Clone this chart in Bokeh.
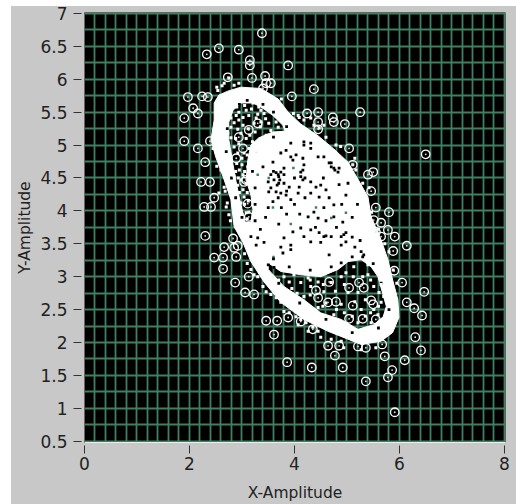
from bokeh.plotting import figure
from bokeh.models import Range1d, SingleIntervalTicker, FixedTicker, Span
from bokeh.embed import file_html
from bokeh.resources import INLINE

x_ticks = [0, 2, 4, 6, 8]
y_ticks = [0.5, 1, 1.5, 2, 2.5, 3, 3.5, 4, 4.5, 5, 5.5, 6, 6.5, 7]
x_title = "X-Amplitude"
y_title = "Y-Amplitude"

# white mass: outer edge of the ring, and the two dark pockets inside it
ring_outer = [(2.47,5.38),(2.47,5.64),(2.56,5.76),(2.73,5.82),(2.98,5.88),(3.36,5.86),(3.69,5.70),(3.88,5.50),
 (4.12,5.32),(4.45,5.14),(4.75,4.94),(5.02,4.74),(5.21,4.48),(5.40,4.21),(5.46,3.91),(5.65,3.56),(5.78,3.26),
 (5.87,2.95),(5.97,2.65),(5.99,2.38),(5.87,2.15),(5.65,2.02),(5.27,1.97),(5.02,2.05),(4.64,2.17),(4.18,2.35),
 (3.74,2.61),(3.42,2.92),(3.17,3.23),(3.02,3.52),(2.85,3.76),(2.79,4.17),(2.64,4.52),(2.50,4.82),(2.41,5.08)]
pocket_upper = [(2.83,5.53),(2.98,5.64),(3.21,5.64),(3.40,5.56),(3.59,5.45),(3.78,5.30),(3.82,5.21),(3.59,5.20),
 (3.32,5.11),(3.17,5.00),(3.11,4.77),(3.08,4.47),(3.17,4.24),(3.21,4.02),(3.17,3.83),(3.06,3.83),(2.98,4.09),
 (2.90,4.39),(2.83,4.70),(2.75,5.08),(2.75,5.35)]
pocket_lower = [(3.50,3.21),(3.74,3.08),(4.12,3.03),(4.50,3.00),(4.83,3.11),(5.02,3.23),(5.27,3.26),(5.46,3.15),
 (5.59,3.00),(5.75,2.55),(5.69,2.39),(5.51,2.27),(5.21,2.20),(4.89,2.35),(4.50,2.45),(4.18,2.65),(3.80,2.85),(3.50,3.11)]

# ringed outliers
rings = [(2.33,6.38),(2.56,6.47),(2.94,6.45),(3.15,6.29),(3.15,6.21),(3.19,6.02),(2.73,6.03),(1.97,5.73),(2.24,5.74),
 (2.35,5.73),(2.07,5.56),(2.16,5.48),(1.90,5.41),(1.90,5.06),(2.16,4.95),(2.39,5.06),(2.30,4.74),(2.22,4.44),(2.39,4.44),
 (2.28,4.06),(2.41,4.06),(2.47,4.20),(2.30,3.62),(2.66,3.45),(2.83,3.58),(2.92,3.47),(3.38,6.70),(3.13,5.23),(3.30,5.33),
 (2.94,5.12),(3.02,4.95),(3.27,4.89),(3.08,4.47),(3.11,4.11),(3.13,3.91),(3.88,6.21),(4.37,5.85),(3.95,5.74),(5.25,5.50),
 (4.24,5.48),(4.45,5.50),(4.45,5.35),(4.73,5.42),(4.75,5.35),(4.96,5.32),(4.45,5.24),(5.04,4.95),(6.50,4.86),(5.11,4.70),
 (5.50,4.59),(5.40,4.55),(5.46,4.30),(5.55,4.05),(5.80,3.98),(5.51,3.86),(5.65,3.82),(5.78,3.71),(5.91,3.61),(5.55,3.68),
 (6.14,3.47),(3.44,6.05),(3.55,5.94),(3.46,5.94),(2.64,3.29),(2.47,3.29),(2.64,3.12),(3.13,3.00),(2.87,2.91),(3.06,2.76),
 (3.23,2.73),(2.89,3.30),(6.05,2.91),(6.47,2.77),(6.14,2.61),(6.28,2.52),(6.43,2.41),(6.30,2.08),(6.41,1.88),(6.10,1.73),
 (5.86,1.58),(5.78,1.47),(5.72,1.79),(5.36,1.41),(5.91,0.94),(4.92,1.62),(4.33,1.62),(3.86,1.70),(3.61,2.12),(3.46,2.33),
 (3.67,2.33),(3.88,2.38),(4.77,1.80),(4.64,1.95),(4.85,1.95),(5.36,1.92),(5.67,1.97),(5.11,2.56),(4.79,2.62),(4.64,2.61),
 (5.04,2.36),(5.30,2.36),(5.46,2.64),(5.55,2.35),(5.04,2.83),(5.23,2.91),(5.32,2.83),(4.45,2.68),(5.90,3.09),(4.66,2.92),
 (4.41,2.79),(4.35,2.20),(4.12,2.32),(5.21,1.94),(2.85,3.44),(5.88,3.39),(5.65,3.61),(5.50,2.58),(2.89,4.80),(3.04,4.44),(3.40,5.86)]

# small white points in the dark pockets and on the ring's edge
white_points = [(2.79,5.41),(2.89,5.45),(2.94,5.50),(3.02,5.42),(3.08,5.53),(3.21,5.64),(3.32,5.58),(3.36,5.53),(2.79,5.27),
 (2.73,5.18),(2.79,5.11),(2.94,5.38),(3.02,5.30),(3.13,5.45),(3.27,5.41),(3.42,5.48),(2.85,4.97),(2.92,4.88),(2.79,4.77),
 (3.04,4.88),(3.23,5.33),(3.36,5.35),(3.51,5.33),(3.69,5.27),(3.46,5.15),(3.40,5.03),(3.59,5.00),(3.30,4.92),(3.21,4.77),
 (3.30,4.73),(3.11,4.67),(2.66,5.94),(2.85,5.91),(2.94,5.94),(2.54,5.83),(2.75,6.02),(2.98,4.47),(3.08,4.42),(3.13,4.50),
 (2.92,4.39),(3.02,4.32),(3.17,4.32),(3.04,4.21),(2.98,4.12),(3.13,3.98),(3.21,3.91),(3.08,3.97),(2.66,4.36),(2.56,4.27),
 (2.70,4.06),(2.75,3.94),(2.85,4.53),(2.79,4.56),(4.09,5.42),(4.18,5.38),(4.31,5.41),(4.37,5.30),(4.47,5.26),(4.56,5.30),
 (4.79,5.00),(5.11,4.70),(5.17,4.62),(4.07,5.45),(3.80,3.00),(3.90,2.92),(3.99,3.03),(4.12,2.91),(4.26,2.98),(4.31,2.85),
 (4.45,2.92),(4.18,2.70),(4.56,2.77),(4.70,2.91),(4.89,3.00),(4.98,3.06),(5.13,3.15),(5.40,3.18),(5.40,3.03),(5.02,2.76),
 (5.21,2.76),(5.51,2.85),(5.61,2.76),(5.65,2.61),(5.51,2.50),(5.59,2.42),(5.27,2.50),(4.89,2.58),(4.54,2.55),(4.45,2.53),
 (4.75,2.42),(5.21,2.30),(5.46,2.30),(5.69,2.32),(3.46,2.77),(3.55,2.73),(3.65,2.68),(3.74,2.61),(3.80,2.47),(3.90,2.45),
 (4.03,2.39),(4.12,2.35),(4.22,2.30),(4.35,2.23),(4.45,2.17),(4.07,2.27),(4.26,2.17),(4.50,2.08),(4.70,2.05),(4.89,2.02),
 (4.94,1.92),(5.27,1.89),(5.55,1.92),(3.17,3.11),(3.23,3.03),
 (2.85,5.34),(2.92,5.24),(2.98,5.18),(3.08,5.10),(3.15,5.15),(3.25,5.20),(2.88,5.10),(2.94,5.02),(3.00,4.80),(2.90,4.72),
 (2.95,4.62),(3.05,4.60),(3.00,4.70),(2.88,4.60),(2.93,4.50),(3.02,4.55),(3.10,4.85),(3.14,4.95),(3.35,5.28),(3.45,5.40),
 (3.55,5.22),(3.65,5.35),(3.30,5.47),(3.18,5.55),(3.05,5.60),(2.90,5.58),(3.12,5.25),(3.20,5.05),(2.95,4.28),(3.05,4.10),
 (3.10,4.28),(3.12,4.15),(3.00,3.95),(3.10,3.88),(3.70,2.95),(3.95,2.82),(4.05,2.75),(4.30,2.72),(4.60,2.60),(4.80,2.50),
 (4.95,2.45),(5.10,2.40),(5.35,2.40),(5.45,2.45),(5.60,2.55),(5.70,2.70),(5.65,2.88),(5.45,2.95),(5.30,3.00),(5.12,3.00),
 (4.95,2.88),(4.78,2.78),(4.55,2.88),(4.30,2.95),(5.15,2.62),(5.35,2.65),(2.45,4.95),(2.52,4.68),(2.60,4.62),(2.68,4.30),
 (2.72,4.12),(2.78,3.85),(2.52,5.88),(2.62,5.90),(3.05,3.35),(3.10,3.20),(3.30,3.00),(3.40,2.85),(5.47,3.98),(5.60,3.72),
 (5.72,3.50),(5.80,3.38),(5.88,3.10),(5.95,2.90),(5.30,4.42),(5.42,4.35),(3.75,5.70),(3.98,5.48),(4.05,5.30),(4.60,5.12),
 (4.88,4.98),(5.15,4.80)]

# small black points on the white mass
black_points = [(3.65,4.58),(3.70,4.52),(3.74,4.59),(3.80,4.55),(3.61,4.47),(3.70,4.42),(3.80,4.42),(3.90,4.36),(3.55,4.35),
 (3.51,4.29),(3.65,4.29),(3.74,4.27),(3.84,4.24),(3.69,4.20),(3.59,4.14),(3.93,4.17),(4.07,4.27),(4.09,4.36),(4.16,4.47),
 (4.12,4.59),(4.18,4.70),(4.16,4.80),(3.93,5.03),(3.74,4.88),(3.84,4.92),(4.03,4.85),(4.18,5.00),(4.31,5.03),(3.97,4.77),
 (4.31,4.44),(4.41,4.36),(4.50,4.39),(4.60,4.32),(4.31,4.27),(4.47,4.21),(4.66,4.20),(4.75,4.09),(4.56,4.05),(4.37,3.98),
 (4.26,3.91),(4.45,3.89),(4.75,3.91),(4.92,3.83),(4.70,3.61),(4.56,3.61),(4.47,3.67),(4.31,3.71),(4.12,3.74),(3.97,3.68),
 (3.80,3.59),(3.30,3.59),(3.42,3.52),(3.27,3.48),(4.66,4.73),(4.75,4.65),(4.83,4.59),(4.98,4.24),(5.02,4.42),(3.59,4.74),
 (3.40,4.67),(3.50,4.44),(4.98,3.67),(4.89,3.61),(4.18,3.61),(4.31,3.53),(4.50,3.52),(3.93,3.48),(3.74,3.45),(3.17,3.61),
 (4.31,4.95),(4.56,4.82),(4.70,4.73),(4.18,5.05),(4.45,4.82),(3.93,4.82),(4.66,3.33),(3.93,3.41),(3.78,3.36),(3.50,3.18),
 (3.61,3.14),(5.32,3.33),(4.89,3.21),(5.27,3.38),(4.94,3.64),(4.98,3.53),(4.89,3.48),(5.30,3.30),(3.69,4.55),(3.72,4.47),
 (3.67,4.39),(4.12,4.52),(4.16,4.62),(4.20,4.50),(4.77,4.62),(4.70,4.67),(4.85,4.65),(4.60,3.62),
 (2.95,5.62),(3.10,5.68),(3.40,5.62),(3.60,5.50),(3.85,5.28),(3.60,5.12),(3.30,5.18),(2.72,5.25),(2.70,4.90),(2.80,4.50),
 (2.88,4.20),(3.00,3.90),(3.25,4.10),(3.25,4.35),(3.20,4.60),(3.25,3.85),(3.35,3.72),(3.60,3.27),(3.90,3.15),(4.30,3.10),
 (4.70,3.15),(5.10,3.30),(5.50,3.20),(5.65,2.90),(5.80,2.50),(5.60,2.22),(5.10,2.15),(4.60,2.35),(4.10,2.60),(3.70,2.90),
 (3.60,4.60),(3.55,4.55),(3.80,4.65),(4.00,4.50),(3.85,4.30),(4.00,4.10),(3.75,4.05),(3.50,4.05),(3.45,3.90),(3.70,3.80),
 (3.85,3.95),(4.10,3.95),(4.20,4.20),(4.55,4.50),(4.85,4.40),(4.90,4.10),(4.60,3.85),(4.40,3.75),(4.80,3.75),(5.10,3.90),
 (5.20,4.10),(5.10,3.60),(5.25,3.55),(5.15,3.45)]

# small green points where the grid shows through
green_points = [(3.51,4.50),(3.59,4.05),(3.93,3.80),(4.41,4.05),(4.70,3.89),(4.98,3.97),(3.98,4.65),(3.30,4.55),(3.60,3.30)]


def xs_of(pts):
    return [a for a, _ in pts]


def ys_of(pts):
    return [b for _, b in pts]


GRAY = "#c8c8c8"
GRID = "#3f8063"
TEXT = "#222222"

p = figure(width=516, height=504, output_backend="svg", toolbar_location=None,
           x_range=Range1d(0, 8.02), y_range=Range1d(0.48, 7.015),
           background_fill_color="#000000", border_fill_color=None,
           min_border_left=84, min_border_right=11, min_border_top=12, min_border_bottom=61,
           x_axis_label=x_title, y_axis_label=y_title)
p.outline_line_color = None
p.styles = {"background-image": "linear-gradient(to right, #fff 11px, transparent 11px), "
                                "linear-gradient(to bottom, #fff 6px, " + GRAY + " 6px)"}

for grid, step in ((p.xgrid, 0.2), (p.ygrid, 0.25)):
    grid.ticker = SingleIntervalTicker(interval=step)
    grid.grid_line_color = GRID
    grid.grid_line_width = 1.8

for ax, ticks in ((p.xaxis, x_ticks), (p.yaxis, y_ticks)):
    ax.ticker = FixedTicker(ticks=ticks)
    ax.minor_tick_line_color = None
    ax.major_tick_in = -3
    ax.major_tick_out = 11
    ax.major_tick_line_color = "#333333"
    ax.major_label_text_font = "DejaVu Sans"
    ax.major_label_text_font_size = "17px"
    ax.major_label_text_color = TEXT
    ax.axis_label_text_font = "DejaVu Sans"
    ax.axis_label_text_font_size = "15.5px"
    ax.axis_label_text_font_style = "normal"
    ax.axis_label_text_color = TEXT
p.xaxis.axis_line_color = "#eeeeee"
p.yaxis.axis_line_color = "#666666"
p.xaxis.major_label_standoff = 3
p.yaxis.major_label_standoff = 6
p.xaxis.axis_label_standoff = 11
p.yaxis.axis_label_standoff = 3
p.xaxis.major_label_orientation = "horizontal"
p.add_layout(Span(location=7.015, dimension="width", line_color="#666666", line_width=1))

p.multi_polygons(
    xs=[[[xs_of(ring_outer), xs_of(pocket_upper), xs_of(pocket_lower)]]],
    ys=[[[ys_of(ring_outer), ys_of(pocket_upper), ys_of(pocket_lower)]]],
    fill_color="#ffffff", line_color="#ffffff", line_width=1)

p.scatter(xs_of(green_points), ys_of(green_points), size=2.5, marker="square", color=GRID, line_color=None)
p.scatter(xs_of(black_points), ys_of(black_points), size=2.8, marker="square", color="#000000", line_color=None)
p.scatter(xs_of(white_points), ys_of(white_points), size=3, marker="square", color="#ffffff", line_color=None)
p.scatter(xs_of(rings), ys_of(rings), size=8.5, marker="circle", fill_color=None, line_color="#ffffff", line_width=1.3)
p.scatter(xs_of(rings), ys_of(rings), size=1.8, marker="circle", color="#e0e0e0", line_color=None)

open("out.html", "w").write(file_html(p, INLINE))
